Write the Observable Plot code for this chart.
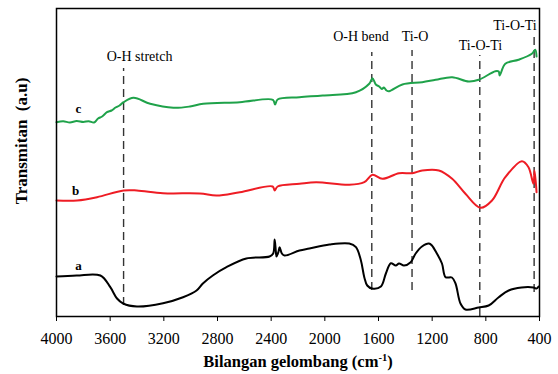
<!DOCTYPE html>
<html><head><meta charset="utf-8">
<script src="https://cdn.jsdelivr.net/npm/d3@7"></script>
<script src="https://cdn.jsdelivr.net/npm/@observablehq/plot@0.6"></script>
<style>body{margin:0;background:#fff}</style>
</head><body><div id="chart"></div>
<script>
// Curve a (black)
const waveA = [4000,3850,3673,3599,3549,3503,3401,3206,3057,2956,2909,2835,2733,2585,2412,2385,2374,2365,2360,2345,2337,2320,2300,2189,2115,1966,1818,1768,1731,1706,1684,1647,1582,1545,1508,1471,1447,1410,1360,1323,1276,1224,1202,1165,1127,1100,1053,1026,989,952,853,779,704,630,534,445,422,407];
const transA = [39,40,40,28.3,17,12,9,12.3,18.3,25,32,40,48.3,57,59,62,76,64,59,64,68.3,62,60,65,67,71,72,68.3,55,38.3,30,27,29,42,52.3,50,52,50,53.3,62,69,72,70,62,52,38.3,38,32,12,6,8,10,18.3,25,28,28,27,29];
// Curve b (red)
const waveB = [4000,3846,3698,3500,3401,3206,2931,2807,2634,2389,2374,2352,2189,2065,1818,1706,1645,1571,1447,1348,1274,1150,1051,952,840,754,655,531,482,445,437,422];
const transB = [115,115,118.3,125,125,122.3,122,120,123.3,129,125,129,131.7,133.3,130.7,133.3,140.7,136.7,142.3,142.3,145,145,136.7,121.7,107.7,115,138.3,154.3,148.3,131.7,145,123.3];
// Curve c (green)
const waveC = [4000,3950,3900,3850,3800,3760,3720,3690,3660,3624,3590,3560,3530,3500,3426,3302,3129,3005,2907,2634,2387,2371,2352,2189,2016,1768,1669,1645,1620,1595,1575,1560,1540,1521,1422,1274,1174,1051,927,853,729,704,697,655,556,457,432,422];
const transC = [193.3,194.3,193,194.5,193.5,194.3,193,197,199,203.3,205,208,210,213.3,217.7,211.7,207.7,209,211.7,213.3,215.7,211,216,218.3,220,223.3,231.7,237.3,231,229,226.5,228,225,224.3,231,233.3,235.7,238.3,234,235.7,244.3,244,240,251.7,255.7,261.7,265.7,259];

// Band annotations
const bandWave = [3500,1650,1350,845,440];
const bandName = ["O-H stretch","O-H bend","Ti-O","Ti-O-Ti","Ti-O-Ti"];
const bandTop = [247,263,265,260,282];
const bandBottom = [10,25,25,-1,23];
const bandLabelX = [3381,1731,1328,840,583];
const bandLabelY = [255,275,275,266,286];

// Series labels
const seriesName = ["a","b","c"];
const seriesLabelX = [3836,3858,3836];
const seriesLabelY = [50,125,207];

const xTicks = [4000,3600,3200,2800,2400,2000,1600,1200,800,400];
const xTitle = "Bilangan gelombang (cm";
const xTitleSup = "-1";
const yTitle = "Transmitan  (a.u)";

const tA = waveA.map((w,i)=>({w, t: transA[i]}));
const tB = waveB.map((w,i)=>({w, t: transB[i]}));
const tC = waveC.map((w,i)=>({w, t: transC[i]}));
const bands = bandWave.map((w,i)=>({w, name: bandName[i], top: bandTop[i], bottom: bandBottom[i], lx: bandLabelX[i], ly: bandLabelY[i]}));
const series = seriesName.map((s,i)=>({s, x: seriesLabelX[i], y: seriesLabelY[i]}));

const plot = Plot.plot({
  width: 558, height: 374,
  marginLeft: 56, marginRight: 19, marginTop: 8, marginBottom: 58,
  style: {fontFamily: "'Liberation Serif', serif", background: "white", color: "black"},
  x: {domain: [4000, 400]},
  y: {domain: [-1, 307], axis: null},
  marks: [
    Plot.axisX({ticks: xTicks, tickSize: 5, tickPadding: 11, fontSize: 16, label: null, tickFormat: d => String(d), stroke: "black"}),
    Plot.ruleX(bands, {x: "w", y1: "bottom", y2: "top", stroke: "#333", strokeWidth: 1.4, strokeDasharray: "8,5"}),
    Plot.line(tA, {x: "w", y: "t", stroke: "#000", strokeWidth: 2, curve: "catmull-rom"}),
    Plot.line(tB, {x: "w", y: "t", stroke: "#ee1c24", strokeWidth: 2, curve: "catmull-rom"}),
    Plot.line(tC, {x: "w", y: "t", stroke: "#1fa24a", strokeWidth: 2, curve: "catmull-rom"}),
    Plot.text(bands, {x: "lx", y: "ly", text: "name", lineAnchor: "bottom", fontSize: 14, fill: "black"}),
    Plot.text(series, {x: "x", y: "y", text: "s", fontWeight: "bold", fontSize: 13, fill: "black"}),
    Plot.frame({stroke: "black", strokeWidth: 1.5})
  ]
});
document.getElementById("chart").appendChild(plot);

const svg = d3.select(plot);
// X axis title with superscript
const xt = svg.append("text")
  .attr("x", 298).attr("y", 367)
  .attr("text-anchor", "middle")
  .attr("font-weight", "bold").attr("font-size", 16.5).attr("fill", "black");
xt.append("tspan").text(xTitle);
xt.append("tspan").attr("font-size", 10.5).attr("dy", -6.5).text(xTitleSup);
xt.append("tspan").attr("dy", 6.5).text(")");
// Y axis title
svg.append("text")
  .attr("transform", "translate(27,141) rotate(-90)")
  .attr("text-anchor", "middle")
  .attr("font-weight", "bold").attr("font-size", 17).attr("fill", "black")
  .style("white-space", "pre")
  .text(yTitle);
</script>
</body></html>
